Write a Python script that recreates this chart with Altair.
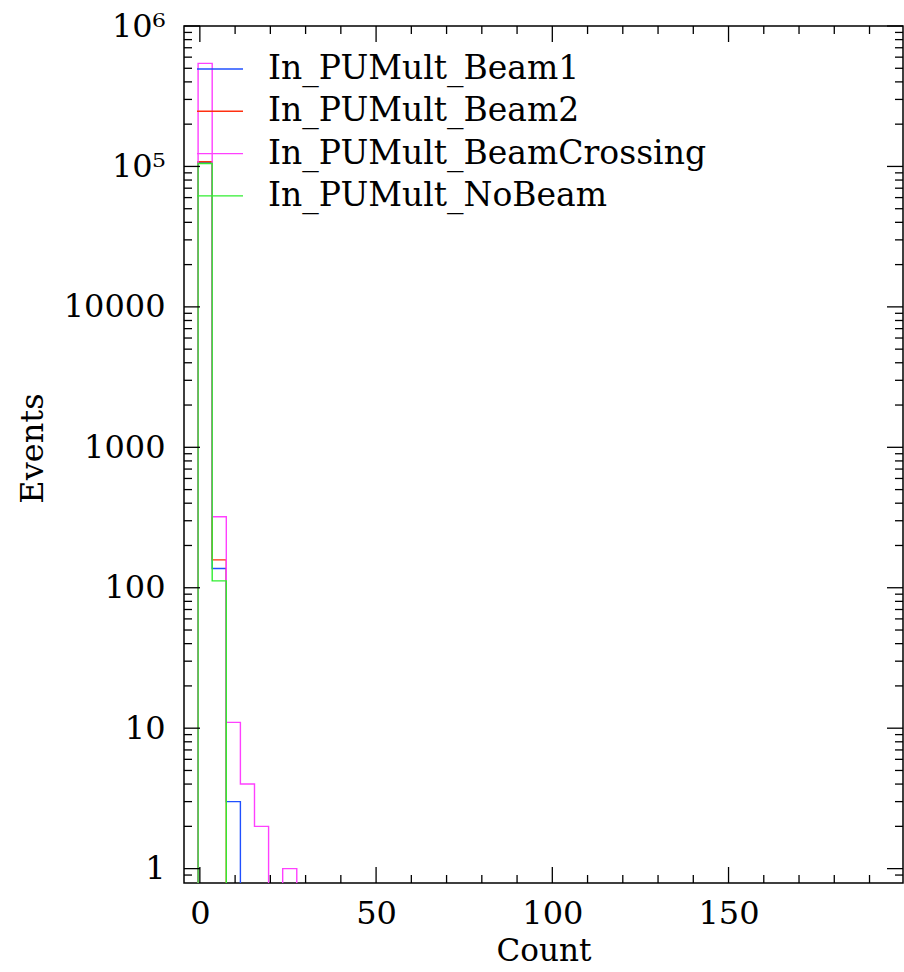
import altair as alt
import pandas as pd

# ---- data (bin width 4, first bin starts at -0.5) ----
bin_low = [-0.5, 3.5, 7.5, 11.5, 15.5, 19.5, 23.5]
bin_width = 4
beam1 = [1.07e5, 137, 3, 0, 0, 0, 0]
beam2 = [1.08e5, 158, 0, 0, 0, 0, 0]
crossing = [5.42e5, 320, 11, 4, 2, 0, 1]
nobeam = [1.05e5, 112, 0, 0, 0, 0, 0]

series_names = ["In_PUMult_Beam1", "In_PUMult_Beam2",
                "In_PUMult_BeamCrossing", "In_PUMult_NoBeam"]
series_values = [beam1, beam2, crossing, nobeam]
series_colors = ["#2050ff", "#ff3010", "#ff40ff", "#30ee30"]

x_major = [0, 50, 100, 150]
x_minor = [v for v in range(10, 200, 10) if v % 50 != 0]
y_major = [1, 10, 100, 1000, 10000, 100000, 1000000]
y_minor = [0.9] + [m * 10 ** k for k in range(0, 6) for m in range(2, 10)]

X_DOMAIN = [-4.5, 199.5]
Y_DOMAIN = [0.79, 1e6]
FLOOR = 0.3  # below the visible range: empty bins fall off the plot
W, H = 719, 857
FONT = "DejaVu Serif"
FS = 32

xscale = alt.Scale(domain=X_DOMAIN, nice=False, zero=False)
yscale = alt.Scale(type="log", domain=Y_DOMAIN, nice=False)

xaxis = alt.Axis(values=x_major, ticks=False, domain=False, grid=False,
                 labelFont=FONT, labelFontSize=FS, labelColor="black",
                 labelPadding=15, labelFlush=False,
                 title="Count", titleFont=FONT, titleFontSize=31,
                 titleFontWeight="normal", titleColor="black", titlePadding=7)
yaxis = alt.Axis(values=y_major, ticks=False, domain=False, grid=False,
                 labelFont=FONT, labelFontSize=FS, labelColor="black",
                 labelPadding=19, labelFlush=False,
                 labelExpr="datum.value >= 999999 ? '10⁶' : datum.value >= 99999 ? '10⁵' : format(datum.value, 'd')",
                 title="Events", titleFont=FONT, titleFontSize=FS,
                 titleFontWeight="normal", titleColor="black", titlePadding=14,
                 titleY=422)


def outline(values):
    last = max(i for i, v in enumerate(values) if v > 0)
    pts = [(bin_low[0], FLOOR)]
    for i in range(last + 1):
        v = values[i] if values[i] > 0 else FLOOR
        pts.append((bin_low[i], v))
        pts.append((bin_low[i] + bin_width, v))
    pts.append((bin_low[last] + bin_width, FLOOR))
    return pd.DataFrame({"x": [p[0] for p in pts],
                         "y": [p[1] for p in pts],
                         "i": list(range(len(pts)))})


layers = []
for name, vals, col in zip(series_names, series_values, series_colors):
    df = outline(vals)
    layers.append(
        alt.Chart(df).mark_line(color=col, strokeWidth=1.4, clip=True).encode(
            x=alt.X("x:Q", scale=xscale, axis=xaxis),
            y=alt.Y("y:Q", scale=yscale, axis=yaxis),
            order="i:Q")
    )


# ---- inward tick marks on all four sides ----
def xticks(vals, length):
    d = pd.DataFrame({"x": vals})
    bottom = alt.Chart(d).mark_rule(color="black", strokeWidth=1.3).encode(
        x=alt.X("x:Q", scale=xscale, axis=xaxis), y=alt.value(H), y2=alt.value(H - length))
    top = alt.Chart(d).mark_rule(color="black", strokeWidth=1.3).encode(
        x=alt.X("x:Q", scale=xscale, axis=xaxis), y=alt.value(0), y2=alt.value(length))
    return [bottom, top]


def yticks(vals, length):
    d = pd.DataFrame({"y": vals})
    left = alt.Chart(d).mark_rule(color="black", strokeWidth=1.3).encode(
        y=alt.Y("y:Q", scale=yscale, axis=yaxis), x=alt.value(0), x2=alt.value(length))
    right = alt.Chart(d).mark_rule(color="black", strokeWidth=1.3).encode(
        y=alt.Y("y:Q", scale=yscale, axis=yaxis), x=alt.value(W), x2=alt.value(W - length))
    return [left, right]


tick_layers = (xticks(x_major, 16) + xticks(x_minor, 8)
               + yticks(y_major, 16) + yticks(y_minor, 8))

# ---- legend drawn inside the frame ----
legend_layers = []
for idx, (name, col) in enumerate(zip(series_names, series_colors)):
    ypix = 43 + 42.3 * idx
    legend_layers.append(
        alt.Chart(pd.DataFrame({"name": [name]})).mark_rule(color=col, strokeWidth=1.4).encode(
            x=alt.value(13), x2=alt.value(59), y=alt.value(ypix)))
    legend_layers.append(
        alt.Chart(pd.DataFrame({"name": [name]})).mark_text(
            align="left", baseline="middle", font=FONT, fontSize=33, color="black").encode(
            x=alt.value(84), y=alt.value(ypix), text="name:N"))

chart = alt.layer(*(layers + tick_layers + legend_layers)).properties(
    width=W, height=H,
    padding={"left": 184, "top": 26, "right": 1, "bottom": 89},
    autosize="none",
    background="white",
).configure_view(stroke="black", strokeWidth=1.5)

chart.save("out.html", embed_options={"renderer": "svg", "actions": False})
